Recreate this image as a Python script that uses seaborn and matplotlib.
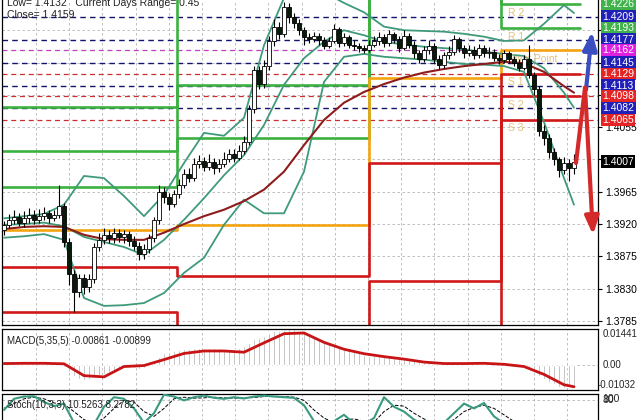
import numpy as np
import pandas as pd
import matplotlib
matplotlib.use("Agg")
import matplotlib.pyplot as plt
import matplotlib.transforms as mtransforms
import seaborn as sns

# ---------------- data ----------------
opens = [1.3912,1.3918,1.3925,1.3930,1.3922,1.3928,1.3933,1.3926,1.3931,1.3935,
         1.3928,1.3932,1.3945,1.3895,1.3850,1.3826,1.3845,1.3832,1.3843,1.3888,
         1.3898,1.3905,1.3900,1.3908,1.3902,1.3906,1.3897,1.3890,1.3878,1.3885,
         1.3900,1.3925,1.3965,1.3958,1.3948,1.3962,1.3975,1.3990,1.3984,1.4003,
         1.4008,1.4000,1.4006,1.3998,1.4004,1.4010,1.4018,1.4012,1.4022,1.4035,
         1.4080,1.4135,1.4115,1.4140,1.4175,1.4195,1.4185,1.4222,1.4208,1.4200,
         1.4190,1.4180,1.4178,1.4182,1.4176,1.4168,1.4175,1.4192,1.4172,1.4180,
         1.4170,1.4168,1.4165,1.4163,1.4170,1.4175,1.4180,1.4172,1.4185,1.4178,
         1.4165,1.4182,1.4170,1.4158,1.4150,1.4162,1.4168,1.4150,1.4142,1.4155,
         1.4160,1.4178,1.4165,1.4158,1.4163,1.4155,1.4165,1.4158,1.4160,1.4152,
         1.4148,1.4158,1.4150,1.4145,1.4138,1.4150,1.4128,1.4108,1.4050,1.4040,
         1.4020,1.4010,1.3995,1.4005,1.3998]
closes = [1.3918,1.3925,1.3930,1.3922,1.3928,1.3933,1.3926,1.3931,1.3935,1.3928,
          1.3932,1.3945,1.3895,1.3850,1.3826,1.3845,1.3832,1.3843,1.3888,1.3898,
          1.3905,1.3900,1.3908,1.3902,1.3906,1.3897,1.3890,1.3878,1.3885,1.3900,
          1.3925,1.3965,1.3958,1.3948,1.3962,1.3975,1.3990,1.3984,1.4003,1.4008,
          1.4000,1.4006,1.3998,1.4004,1.4010,1.4018,1.4012,1.4022,1.4035,1.4080,
          1.4135,1.4115,1.4140,1.4175,1.4195,1.4185,1.4222,1.4208,1.4200,1.4190,
          1.4180,1.4178,1.4182,1.4176,1.4168,1.4175,1.4192,1.4172,1.4180,1.4170,
          1.4168,1.4165,1.4163,1.4170,1.4175,1.4180,1.4172,1.4185,1.4178,1.4165,
          1.4182,1.4170,1.4158,1.4150,1.4162,1.4168,1.4150,1.4142,1.4155,1.4160,
          1.4178,1.4165,1.4158,1.4163,1.4155,1.4165,1.4158,1.4160,1.4152,1.4148,
          1.4158,1.4150,1.4145,1.4138,1.4150,1.4128,1.4108,1.4050,1.4040,1.4020,
          1.4010,1.3995,1.4005,1.3998,1.4007]
highs = [1.3924,1.3934,1.3940,1.3936,1.3938,1.3942,1.3940,1.3941,1.3944,1.3940,
         1.3940,1.3974,1.3950,1.3900,1.3856,1.3850,1.3850,1.3850,1.3893,1.3908,
         1.3915,1.3912,1.3914,1.3913,1.3912,1.3910,1.3904,1.3895,1.3892,1.3906,
         1.3930,1.3975,1.3972,1.3963,1.3968,1.3983,1.3996,1.3998,1.4012,1.4016,
         1.4014,1.4018,1.4012,1.4010,1.4020,1.4025,1.4024,1.4030,1.4042,1.4086,
         1.4140,1.4140,1.4148,1.4182,1.4205,1.4202,1.4230,1.4228,1.4214,1.4205,
         1.4195,1.4186,1.4188,1.4186,1.4180,1.4181,1.4198,1.4195,1.4186,1.4184,
         1.4176,1.4172,1.4170,1.4176,1.4182,1.4188,1.4185,1.4190,1.4188,1.4182,
         1.4190,1.4186,1.4175,1.4163,1.4168,1.4176,1.4172,1.4155,1.4160,1.4168,
         1.4184,1.4181,1.4170,1.4170,1.4168,1.4171,1.4169,1.4166,1.4164,1.4157,
         1.4163,1.4161,1.4154,1.4150,1.4155,1.4170,1.4132,1.4112,1.4058,1.4046,
         1.4026,1.4014,1.4014,1.4010,1.4018]
lows = [1.3905,1.3914,1.3920,1.3917,1.3916,1.3922,1.3920,1.3921,1.3925,1.3921,
        1.3924,1.3928,1.3888,1.3835,1.3798,1.3818,1.3822,1.3825,1.3838,1.3882,
        1.3892,1.3893,1.3894,1.3895,1.3894,1.3890,1.3884,1.3870,1.3872,1.3880,
        1.3895,1.3920,1.3950,1.3940,1.3944,1.3956,1.3970,1.3978,1.3980,1.3998,
        1.3994,1.3995,1.3990,1.3992,1.3999,1.4006,1.4006,1.4009,1.4018,1.4030,
        1.4075,1.4108,1.4110,1.4135,1.4168,1.4178,1.4180,1.4200,1.4193,1.4183,
        1.4170,1.4172,1.4173,1.4170,1.4164,1.4165,1.4172,1.4166,1.4168,1.4165,
        1.4163,1.4160,1.4158,1.4160,1.4166,1.4170,1.4167,1.4168,1.4172,1.4160,
        1.4162,1.4165,1.4152,1.4144,1.4146,1.4157,1.4145,1.4136,1.4138,1.4150,
        1.4156,1.4160,1.4152,1.4154,1.4150,1.4151,1.4153,1.4152,1.4147,1.4143,
        1.4145,1.4144,1.4140,1.4133,1.4135,1.4124,1.4100,1.4042,1.4030,1.4012,
        1.4002,1.3986,1.3990,1.3980,1.3990]

# indicator samples (candle index)
band_idx = [0,4,8,12,16,20,24,28,32,36,40,44,48,52,56,60,64,68,72,76,80,84,88,92,96,100,104,108,112,114]
bb_upper = [1.3928,1.3931,1.3934,1.3947,1.3987,1.3984,1.3959,1.3931,1.3961,1.4005,
            1.4047,1.4043,1.4068,1.4169,1.4235,1.4253,1.4243,1.4228,1.4215,1.4195,
            1.4190,1.4189,1.4188,1.4185,1.4181,1.4175,1.4176,1.4199,1.4225,1.4214]
bb_middle = [1.3919,1.3920,1.3922,1.3917,1.3902,1.3895,1.3888,1.3877,1.3898,1.3926,
             1.3956,1.3988,1.4016,1.4058,1.4114,1.4151,1.4174,1.4190,1.4183,1.4174,
             1.4170,1.4167,1.4165,1.4163,1.4160,1.4157,1.4154,1.4137,1.4103,1.4082]
bb_lower = [1.3901,1.3903,1.3906,1.3898,1.3817,1.3806,1.3807,1.3810,1.3824,1.3852,
            1.3873,1.3919,1.3954,1.3935,1.3935,1.3993,1.4118,1.4153,1.4157,1.4153,
            1.4151,1.4149,1.4146,1.4143,1.4142,1.4140,1.4132,1.4062,1.3984,1.3947]
ma_slow = [1.3913,1.3916,1.3917,1.3916,1.3905,1.3899,1.3898,1.3898,1.3908,1.3920,
           1.3931,1.3940,1.3952,1.3968,1.3993,1.4030,1.4065,1.4089,1.4104,1.4115,
           1.4124,1.4131,1.4136,1.4140,1.4143,1.4146,1.4144,1.4132,1.4112,1.4103]

# daily pivot levels (day boundaries in candle index)
day_edges = [-0.4, 34.6, 73.0, 99.4, 115.2]
r3 = [1.4083, 1.4290, 1.4290, 1.4290]
r2 = [1.4022, 1.4114, 1.4290, 1.4226]
r1 = [1.3972, 1.4040, 1.4290, 1.4193]
pivot = [1.3912, 1.3919, 1.4123, 1.4162]
s1 = [1.3860, 1.3848, 1.4005, 1.4129]
s2 = [1.3798, 1.3700, 1.3841, 1.4098]
s3 = [1.3700, 1.3700, 1.3700, 1.4065]

navy_levels = [1.4209, 1.4177, 1.4145, 1.4113, 1.4082]
magenta_levels = [1.4162]
red_levels = [1.4129, 1.4098, 1.4065]

label_prices = [1.4226, 1.4209, 1.4193, 1.4177, 1.4162, 1.4145, 1.4129, 1.4113, 1.4098, 1.4082, 1.4065, 1.4007]
label_colors = ["#3fb24a", "#2020b8", "#3fb24a", "#2020b8", "#e020e0", "#2020b8",
                "#e52525", "#2020b8", "#e52525", "#2020b8", "#e52525", "#000000"]
price_ticks = [1.3785, 1.3830, 1.3875, 1.3920, 1.3965, 1.4010, 1.4055, 1.4100, 1.4145, 1.4190]
price_tick_labels = ["1.3785", "1.3830", "1.3875", "1.3920", "1.3965", "", "1.4055", "", "", ""]

pp_names = ["R 2", "R 1", "Pivot Point", "S 1", "S 2", "S 3"]
pp_levels = [1.4226, 1.4193, 1.4162, 1.4129, 1.4098, 1.4065]

macd_hist = [0.0003,0.0004,0.0005,0.0005,0.0006,0.0006,0.0006,0.0007,0.0007,0.0006,0.0006,0.0006,
             -0.0008,-0.0030,-0.0048,-0.0058,-0.0062,-0.0060,
             -0.0052,-0.0045,-0.0038,-0.0030,-0.0024,-0.0019,-0.0015,-0.0014,-0.0015,-0.0017,-0.0016,-0.0010,
             0.0005,0.0030,0.0045,0.0050,0.0055,0.0058,0.0062,0.0064,0.0066,0.0068,0.0068,0.0069,0.0068,0.0066,0.0064,0.0064,0.0065,0.0068,
             0.0074,0.0088,0.0102,0.0108,0.0116,0.0126,0.0134,0.0138,0.0142,0.0144,0.0143,
             0.0138,0.0130,0.0120,0.0110,0.0100,0.0090,0.0082,0.0078,0.0070,0.0064,0.0058,0.0052,0.0046,0.0040,
             0.0036,0.0034,0.0033,0.0030,0.0030,0.0028,0.0024,0.0024,0.0021,0.0017,0.0012,0.0010,0.0009,0.0006,0.0003,0.0003,0.0003,
             0.0006,0.0005,0.0004,0.0004,0.0003,0.0004,0.0003,0.0002,0.0000,
             -0.0002,-0.0002,-0.0004,-0.0006,-0.0009,-0.0010,-0.0016,-0.0028,-0.0046,-0.0058,-0.0070,-0.0080,-0.0090,-0.0095,-0.0093,-0.0086]
macd_signal = [0.0004,0.0005,0.0005,0.0003,-0.0045,-0.0050,-0.0008,-0.0004,0.0020,0.0045,
               0.0055,0.0055,0.0050,0.0088,0.0125,0.0128,0.0090,0.0062,0.0044,0.0032,
               0.0022,0.0010,0.0004,0.0004,0.0005,0.0001,-0.0008,-0.0040,-0.0082,-0.0090]

stoch_idx = list(range(0, 115, 2))
stoch_main = [50,85,92,93,75,62,70,10,3,5, 60,90,85,55,10,40,98,92,80,90,
              95,88,85,90,86,92,95,92,90,88, 65,15,5,15,35,8,5,25,90,60,
              45,20,5,3,10,40,70,55,72,30, 8,5,12,6,2,4,7,10.5]
stoch_signal = [55,70,85,90,85,72,68,45,20,6, 25,55,80,75,45,30,55,85,90,87,
                88,90,88,87,88,89,92,93,92,90, 80,50,25,10,20,22,15,12,45,65,
                62,40,22,8,6,20,45,58,65,55, 35,14,8,8,6,4,5,8.3]

# ---------------- style ----------------
sns.set_theme(style="white")
plt.rcParams["font.family"] = ["Liberation Sans", "DejaVu Sans"]

W, H = 640, 420
fig = plt.figure(figsize=(6.4, 4.2), dpi=100)
fig.patch.set_facecolor("white")


def box(x0, y0, x1, y1):
    return [x0 / W, 1 - y1 / H, (x1 - x0) / W, (y1 - y0) / H]


ax = fig.add_axes(box(2, 0, 598, 325))
axm = fig.add_axes(box(2, 329, 598, 390))
axs = fig.add_axes(box(2, 394, 598, 426))

XL = (-0.4, 118.8)
grid_x = [6.4 + 6.64 * k for k in range(17)]
grid_kw = dict(color="#b4b4b4", lw=0.6, ls=(0, (3, 3)))

for a in (ax, axm, axs):
    a.set_facecolor("white")
    a.set_xlim(*XL)
    for g in grid_x:
        a.axvline(g, zorder=0, **grid_kw)
    a.set_xticks([])
    for s in a.spines.values():
        s.set_color("black")
        s.set_linewidth(0.9)
        s.set_visible(True)
ax.spines["top"].set_visible(False)

# ---- main panel ----
ax.set_ylim(1.37794, 1.42321)
for g in price_ticks:
    ax.axhline(g, zorder=0, **grid_kw)
for lv in navy_levels:
    ax.axhline(lv, color="#14146e", lw=1.0, ls=(0, (4, 3)), zorder=1)
for lv in magenta_levels:
    ax.axhline(lv, color="#c040c0", lw=0.9, ls=(0, (4, 3)), zorder=1)
for lv in red_levels:
    ax.axhline(lv, color="#c83030", lw=0.9, ls=(0, (4, 3)), zorder=1)

rows = []
for name, vals in [("r3", r3), ("r2", r2), ("r1", r1), ("p", pivot), ("s1", s1), ("s2", s2), ("s3", s3)]:
    ext = vals + [vals[-1]]
    for xe, v in zip(day_edges, ext):
        rows.append({"x": xe, "y": v, "level": name})
steps_df = pd.DataFrame(rows)
step_pal = {"r3": "#3cb040", "r2": "#3cb040", "r1": "#3cb040", "p": "#f5a410",
            "s1": "#d01818", "s2": "#d01818", "s3": "#d01818"}
sns.lineplot(data=steps_df, x="x", y="y", hue="level", palette=step_pal, estimator=None,
             sort=False, drawstyle="steps-post", linewidth=1.9, legend=False, ax=ax, zorder=2)

band_df = pd.DataFrame({"idx": band_idx * 3,
                        "val": bb_upper + bb_middle + bb_lower,
                        "band": ["u"] * len(band_idx) + ["m"] * len(band_idx) + ["l"] * len(band_idx)})
sns.lineplot(data=band_df, x="idx", y="val", units="band", estimator=None, color="#3f9a7a",
             linewidth=1.3, legend=False, ax=ax, zorder=3)
sns.lineplot(x=band_idx, y=ma_slow, color="#8e1c1c", linewidth=1.5, ax=ax, zorder=3)

# candles
idx = np.arange(len(closes))
o = np.array(opens); c = np.array(closes)
ax.vlines(idx, lows, highs, color="black", lw=0.8, zorder=5)
bull = c >= o
ax.bar(idx, np.maximum(np.abs(c - o), 0.00005), bottom=np.minimum(o, c), width=0.62,
       color=np.where(bull, "white", "#0a1a0a"), edgecolor="black", linewidth=0.6, zorder=6)

# pivot text labels
for nm, lv in zip(pp_names, pp_levels):
    ax.annotate(nm, xy=(100.8, lv), xytext=(0, -2.5), textcoords="offset points",
                va="top", ha="left", fontsize=7.5, color="#e6c27a", zorder=4)

# hand drawn arrows
ax.annotate("", xy=(117.6, 1.4188), xytext=(116.4, 1.4107),
            arrowprops=dict(arrowstyle="-|>,head_width=0.35,head_length=0.9", color="#3a4ec0",
                            lw=3, shrinkA=0, shrinkB=0), zorder=8)
sns.lineplot(x=[114.4, 116.2], y=[1.4005, 1.4110], color="#d42a2a", linewidth=3, ax=ax, zorder=8)
ax.annotate("", xy=(117.8, 1.3905), xytext=(116.2, 1.4110),
            arrowprops=dict(arrowstyle="-|>,head_width=0.35,head_length=0.9", color="#d42a2a",
                            lw=3, shrinkA=0, shrinkB=0), zorder=8)

ax.set_xlim(*XL)
ax.set_xlabel(""); ax.set_ylabel("")
ax.yaxis.tick_right()
ax.set_yticks(price_ticks)
ax.set_yticklabels(price_tick_labels)
ax.tick_params(axis="y", direction="out", length=3, width=0.8, pad=2, labelsize=7.5, colors="black")

trans = mtransforms.blended_transform_factory(ax.transAxes, ax.transData)
for p, col in zip(label_prices, label_colors):
    ax.text(1.0075, p, f"{p:.4f}", transform=trans, va="center", ha="left", fontsize=7.5,
            color="white", clip_on=False, zorder=10,
            bbox=dict(boxstyle="square,pad=0.12", fc=col, ec="none"))

fig.text(7 / W, 1 - 3 / H, "Low= 1.4132   Current Days Range= 0.45", fontsize=7.5,
         color="#222222", va="center", ha="left")
fig.text(7 / W, 1 - 15 / H, "Close= 1.4159", fontsize=7.5, color="#222222", va="center", ha="left")

# ---- MACD panel ----
axm.set_ylim(-0.01032, 0.01441)
axm.axhline(0, zorder=0, **grid_kw)
axm.bar(idx, macd_hist, width=0.55, color="#a2a2a2", zorder=2)
sns.lineplot(x=band_idx, y=macd_signal, color="#c81414", linewidth=2, ax=axm, zorder=3)
axm.set_xlim(*XL)
axm.set_xlabel(""); axm.set_ylabel("")
axm.set_yticks([])
axm.text(0.008, 0.80, "MACD(5,35,5) -0.00861 -0.00899", transform=axm.transAxes,
         fontsize=7, color="#222222", va="center", ha="left")
tm = mtransforms.blended_transform_factory(axm.transAxes, axm.transData)
axm.text(1.0075, 0.01441, "0.01441", transform=tm, va="top", ha="left", fontsize=7, clip_on=False)
axm.text(1.0075, 0.0, "0.00", transform=tm, va="center", ha="left", fontsize=7, clip_on=False)
axm.text(1.0, -0.01032, "-0.01032", transform=tm, va="bottom", ha="left", fontsize=7, clip_on=False)

# ---- Stochastic panel ----
axs.set_ylim(0, 100)
axs.axhline(80, zorder=0, **grid_kw)
axs.axhline(20, zorder=0, **grid_kw)
sns.lineplot(x=stoch_idx, y=stoch_main, color="#3a9a80", linewidth=1.5, ax=axs, zorder=3)
sns.lineplot(x=stoch_idx, y=stoch_signal, color="black", linewidth=0.7, linestyle="--", ax=axs, zorder=2)
axs.set_xlim(*XL)
axs.set_xlabel(""); axs.set_ylabel("")
axs.set_yticks([])
ts = mtransforms.blended_transform_factory(axs.transAxes, axs.transData)
axs.text(0.008, 66, "Stoch(10,3,3) 10.5263 8.2782", transform=ts, fontsize=7,
         color="#222222", va="center", ha="left")
axs.text(1.0075, 100, "100", transform=ts, va="top", ha="left", fontsize=7.5, clip_on=False)
axs.text(1.0075, 80, "80", transform=ts, va="center", ha="left", fontsize=7.5, clip_on=False)

fig.savefig("out.png", dpi=100)
